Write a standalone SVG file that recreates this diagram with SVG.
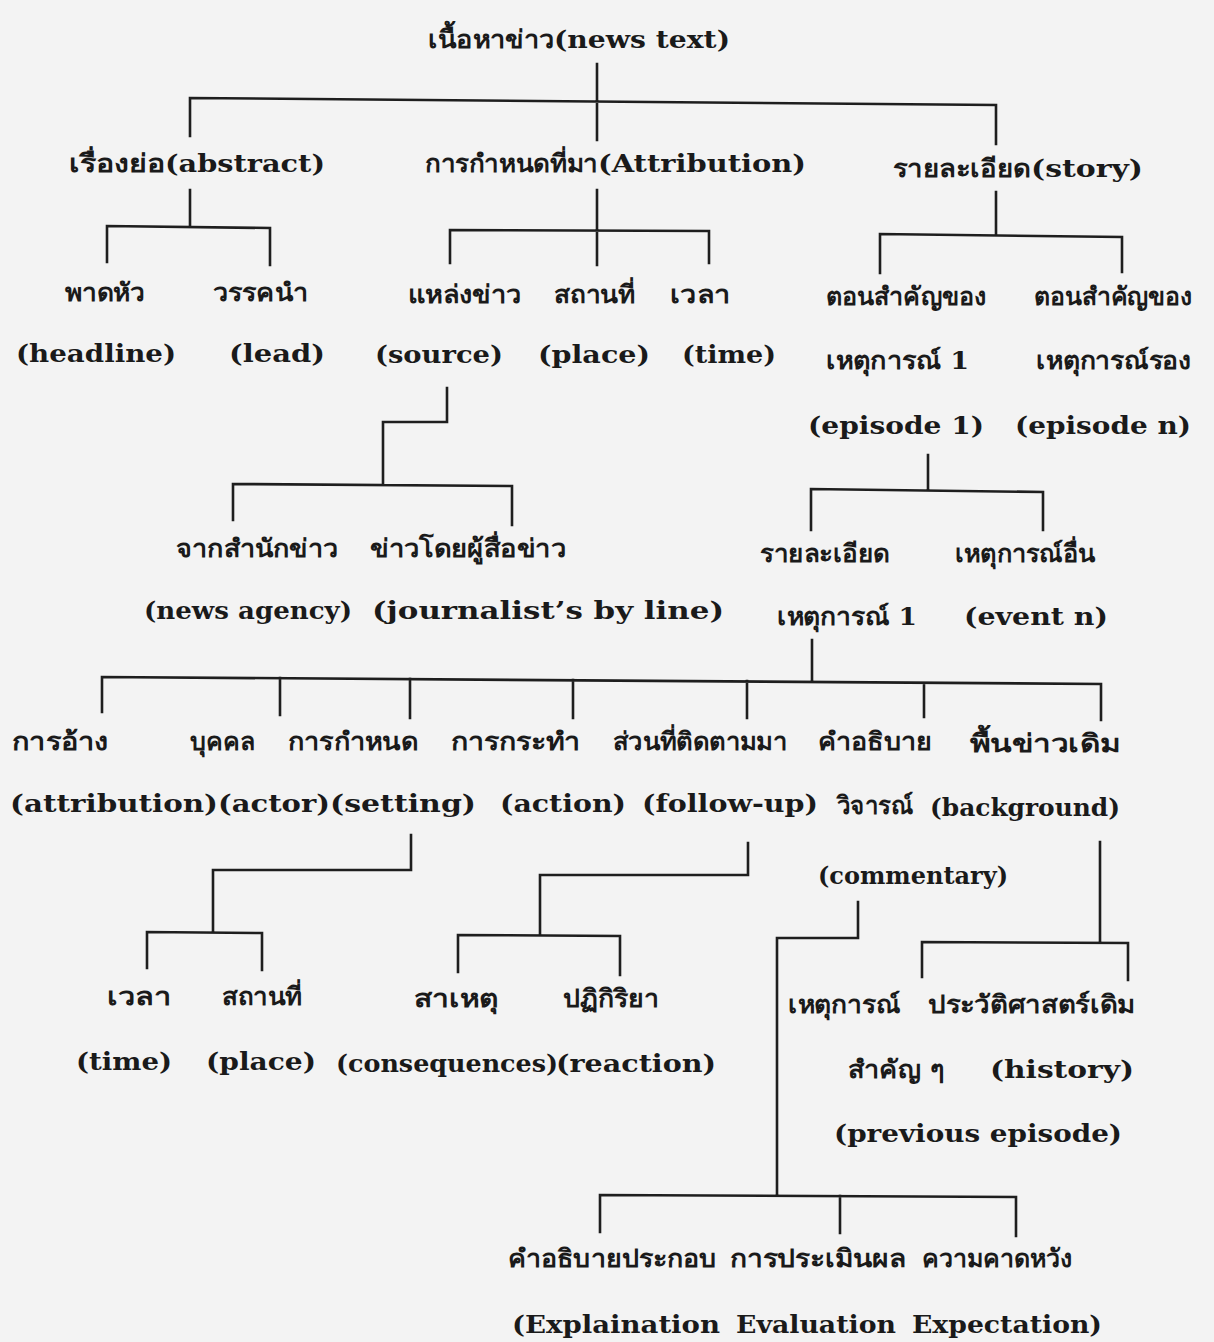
<svg xmlns="http://www.w3.org/2000/svg" width="1214" height="1342" viewBox="0 0 1214 1342">
<style>
.bg{fill:#f3f3f3}
.c{fill:none;stroke:#1e1e1e;stroke-width:2.6;stroke-linecap:square}
text{font-weight:bold;fill:#1a1a1a}
.la{font-family:"DejaVu Serif","Liberation Serif",serif;font-size:24px}
.th{font-family:"DejaVu Serif","Noto Sans","Noto Sans CJK SC",serif;font-size:25px}
</style>
<rect class="bg" x="0" y="0" width="1214" height="1342"/>
<g id="connectors">
<path class="c" d="M597 64V140M190 136V98L996 105V144"/>
<path class="c" d="M190 190V227M107 262V226L270 228V265"/>
<path class="c" d="M597 190V265M450 263V230L709 231V263"/>
<path class="c" d="M996 192V234M880 273V234L1122 237V272"/>
<path class="c" d="M447 388V422H383V484M233 520V484L512 486V525"/>
<path class="c" d="M928 455V490M811 530V489L1043 492V530"/>
<path class="c" d="M812 640V680M102 712V677L1101 684V720M280 678V715M410 679V718M573 680V718M747 681V718M924 683V717"/>
<path class="c" d="M411 835V870H213V932M147 968V932L262 933V970"/>
<path class="c" d="M748 843V875H540V935M458 972V935L620 936V975"/>
<path class="c" d="M858 902V938H777V1195M600 1232V1195L1016 1197V1236M840 1196V1233"/>
<path class="c" d="M1100 842V942M922 977V942L1128 943V980"/>
</g>
<g id="n-root"><text class="th" x="428" y="48" textLength="126" lengthAdjust="spacingAndGlyphs">เนื้อหาข่าว</text><text class="la" x="554" y="48" textLength="176" lengthAdjust="spacingAndGlyphs">(news text)</text></g>
<g id="n-abstract"><text class="th" x="69" y="172" textLength="96" lengthAdjust="spacingAndGlyphs">เรื่องย่อ</text><text class="la" x="165" y="172" textLength="160" lengthAdjust="spacingAndGlyphs">(abstract)</text></g>
<g id="n-attribution"><text class="th" x="425" y="172" textLength="173" lengthAdjust="spacingAndGlyphs">การกำหนดที่มา</text><text class="la" x="598" y="172" textLength="208" lengthAdjust="spacingAndGlyphs">(Attribution)</text></g>
<g id="n-story"><text class="th" x="893" y="177" textLength="138" lengthAdjust="spacingAndGlyphs">รายละเอียด</text><text class="la" x="1031" y="177" textLength="112" lengthAdjust="spacingAndGlyphs">(story)</text></g>
<g id="n-headline"><text class="th" x="65" y="301" textLength="80" lengthAdjust="spacingAndGlyphs">พาดหัว</text><text class="la" x="16" y="362" textLength="160" lengthAdjust="spacingAndGlyphs">(headline)</text></g>
<g id="n-lead"><text class="th" x="213" y="301" textLength="95" lengthAdjust="spacingAndGlyphs">วรรคนำ</text><text class="la" x="229" y="362" textLength="96" lengthAdjust="spacingAndGlyphs">(lead)</text></g>
<g id="n-source"><text class="th" x="408" y="303" textLength="113" lengthAdjust="spacingAndGlyphs">แหล่งข่าว</text><text class="la" x="375" y="363" textLength="128" lengthAdjust="spacingAndGlyphs">(source)</text></g>
<g id="n-place"><text class="th" x="554" y="303" textLength="81" lengthAdjust="spacingAndGlyphs">สถานที่</text><text class="la" x="538" y="363" textLength="112" lengthAdjust="spacingAndGlyphs">(place)</text></g>
<g id="n-time"><text class="th" x="670" y="303" textLength="60" lengthAdjust="spacingAndGlyphs">เวลา</text><text class="la" x="682" y="363" textLength="94" lengthAdjust="spacingAndGlyphs">(time)</text></g>
<g id="n-episode1"><text class="th" x="826" y="305" textLength="160" lengthAdjust="spacingAndGlyphs">ตอนสำคัญของ</text><text class="th" x="826" y="369" textLength="143" lengthAdjust="spacingAndGlyphs">เหตุการณ์ 1</text><text class="la" x="808" y="434" textLength="176" lengthAdjust="spacingAndGlyphs">(episode 1)</text></g>
<g id="n-episoden"><text class="th" x="1034" y="305" textLength="158" lengthAdjust="spacingAndGlyphs">ตอนสำคัญของ</text><text class="th" x="1036" y="369" textLength="155" lengthAdjust="spacingAndGlyphs">เหตุการณ์รอง</text><text class="la" x="1015" y="434" textLength="176" lengthAdjust="spacingAndGlyphs">(episode n)</text></g>
<g id="n-agency"><text class="th" x="176" y="557" textLength="162" lengthAdjust="spacingAndGlyphs">จากสำนักข่าว</text><text class="la" x="144" y="619" textLength="208" lengthAdjust="spacingAndGlyphs">(news agency)</text></g>
<g id="n-byline"><text class="th" x="370" y="557" textLength="196" lengthAdjust="spacingAndGlyphs">ข่าวโดยผู้สื่อข่าว</text><text class="la" x="372" y="619" textLength="352" lengthAdjust="spacingAndGlyphs">(journalist’s by line)</text></g>
<g id="n-detail1"><text class="th" x="760" y="562" textLength="130" lengthAdjust="spacingAndGlyphs">รายละเอียด</text><text class="th" x="777" y="625" textLength="140" lengthAdjust="spacingAndGlyphs">เหตุการณ์ 1</text></g>
<g id="n-eventn"><text class="th" x="955" y="562" textLength="140" lengthAdjust="spacingAndGlyphs">เหตุการณ์อื่น</text><text class="la" x="964" y="625" textLength="144" lengthAdjust="spacingAndGlyphs">(event n)</text></g>
<g id="n-attribution2"><text class="th" x="12" y="750" textLength="96" lengthAdjust="spacingAndGlyphs">การอ้าง</text><text class="la" x="10" y="812" textLength="208" lengthAdjust="spacingAndGlyphs">(attribution)</text></g>
<g id="n-actor"><text class="th" x="190" y="750" textLength="65" lengthAdjust="spacingAndGlyphs">บุคคล</text><text class="la" x="218" y="812" textLength="112" lengthAdjust="spacingAndGlyphs">(actor)</text></g>
<g id="n-setting"><text class="th" x="288" y="750" textLength="130" lengthAdjust="spacingAndGlyphs">การกำหนด</text><text class="la" x="330" y="812" textLength="146" lengthAdjust="spacingAndGlyphs">(setting)</text></g>
<g id="n-action"><text class="th" x="451" y="750" textLength="129" lengthAdjust="spacingAndGlyphs">การกระทำ</text><text class="la" x="500" y="812" textLength="126" lengthAdjust="spacingAndGlyphs">(action)</text></g>
<g id="n-followup"><text class="th" x="613" y="750" textLength="174" lengthAdjust="spacingAndGlyphs">ส่วนที่ติดตามมา</text><text class="la" x="642" y="812" textLength="176" lengthAdjust="spacingAndGlyphs">(follow-up)</text></g>
<g id="n-commentary"><text class="th" x="818" y="750" textLength="114" lengthAdjust="spacingAndGlyphs">คำอธิบาย</text><text class="th" x="837" y="814" textLength="76" lengthAdjust="spacingAndGlyphs">วิจารณ์</text><text class="la" x="818" y="884" textLength="190" lengthAdjust="spacingAndGlyphs">(commentary)</text></g>
<g id="n-background"><text class="th" x="970" y="752" textLength="150" lengthAdjust="spacingAndGlyphs">พื้นข่าวเดิม</text><text class="la" x="930" y="816" textLength="190" lengthAdjust="spacingAndGlyphs">(background)</text></g>
<g id="n-time2"><text class="th" x="107" y="1005" textLength="64" lengthAdjust="spacingAndGlyphs">เวลา</text><text class="la" x="76" y="1070" textLength="96" lengthAdjust="spacingAndGlyphs">(time)</text></g>
<g id="n-place2"><text class="th" x="222" y="1005" textLength="80" lengthAdjust="spacingAndGlyphs">สถานที่</text><text class="la" x="206" y="1070" textLength="110" lengthAdjust="spacingAndGlyphs">(place)</text></g>
<g id="n-consequences"><text class="th" x="414" y="1007" textLength="84" lengthAdjust="spacingAndGlyphs">สาเหตุ</text><text class="la" x="336" y="1072" textLength="222" lengthAdjust="spacingAndGlyphs">(consequences)</text></g>
<g id="n-reaction"><text class="th" x="563" y="1007" textLength="96" lengthAdjust="spacingAndGlyphs">ปฏิกิริยา</text><text class="la" x="556" y="1072" textLength="160" lengthAdjust="spacingAndGlyphs">(reaction)</text></g>
<g id="n-previous"><text class="th" x="788" y="1013" textLength="112" lengthAdjust="spacingAndGlyphs">เหตุการณ์</text><text class="th" x="848" y="1078" textLength="96" lengthAdjust="spacingAndGlyphs">สำคัญ ๆ</text><text class="la" x="834" y="1142" textLength="288" lengthAdjust="spacingAndGlyphs">(previous episode)</text></g>
<g id="n-history"><text class="th" x="928" y="1013" textLength="207" lengthAdjust="spacingAndGlyphs">ประวัติศาสตร์เดิม</text><text class="la" x="990" y="1078" textLength="144" lengthAdjust="spacingAndGlyphs">(history)</text></g>
<g id="n-explanation"><text class="th" x="508" y="1267" textLength="208" lengthAdjust="spacingAndGlyphs">คำอธิบายประกอบ</text><text class="la" x="512" y="1333" textLength="208" lengthAdjust="spacingAndGlyphs">(Explaination</text></g>
<g id="n-evaluation"><text class="th" x="730" y="1267" textLength="176" lengthAdjust="spacingAndGlyphs">การประเมินผล</text><text class="la" x="736" y="1333" textLength="160" lengthAdjust="spacingAndGlyphs">Evaluation</text></g>
<g id="n-expectation"><text class="th" x="922" y="1267" textLength="150" lengthAdjust="spacingAndGlyphs">ความคาดหวัง</text><text class="la" x="912" y="1333" textLength="190" lengthAdjust="spacingAndGlyphs">Expectation)</text></g>
</svg>
